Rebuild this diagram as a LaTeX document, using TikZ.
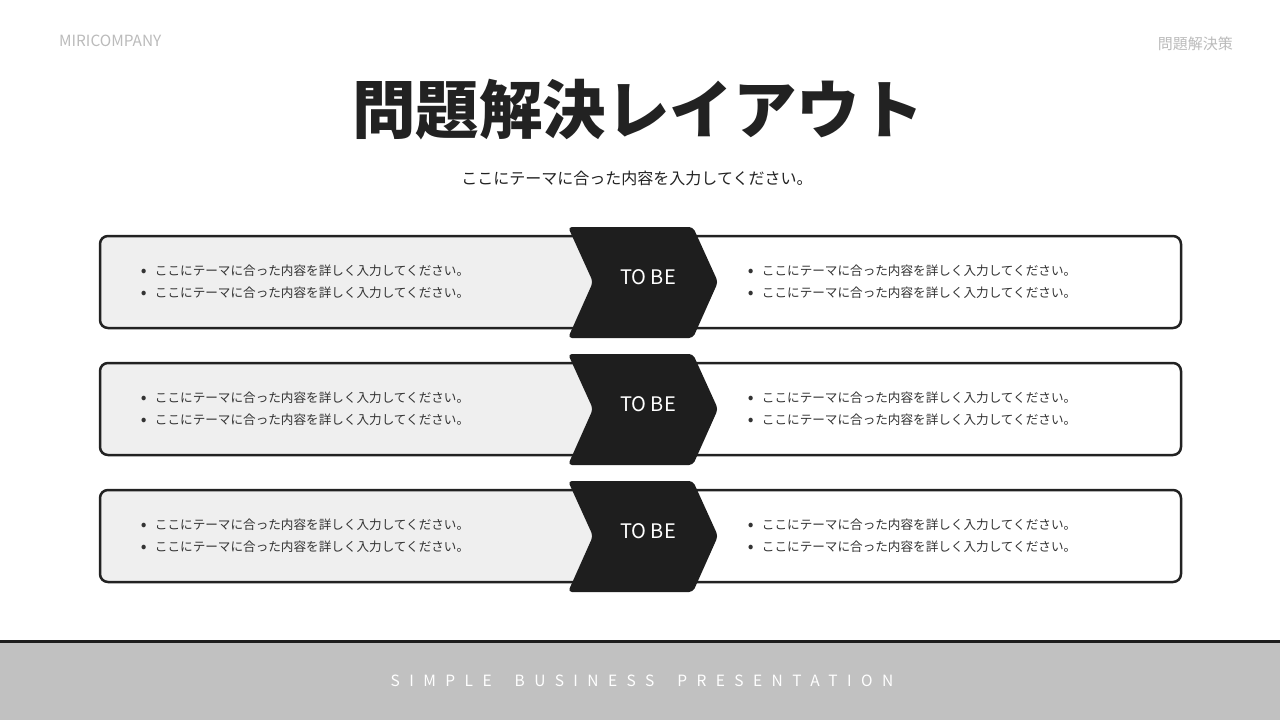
\documentclass[tikz,border=0pt]{standalone}
\usepackage{fontspec}
\setmainfont{Noto Sans CJK JP}
\usetikzlibrary{positioning}
\definecolor{ink}{HTML}{222222}
\definecolor{chevdark}{HTML}{1E1E1E}
\definecolor{leftfill}{HTML}{EFEFEF}
\definecolor{txt}{HTML}{333333}
\definecolor{headgray}{HTML}{BBBBBB}
\definecolor{footgray}{HTML}{C1C1C1}
\newcommand{\bul}{\makebox[14pt][l]{\raisebox{-0.6pt}{\fontsize{17}{22}\selectfont •}}}
\newcommand{\pt}{\bul ここにテーマに合った内容を詳しく入力してください。}
\begin{document}
\begin{tikzpicture}[x=1pt,y=-1pt]
\tikzstyle{head}=[text=headgray,inner sep=0pt]
\tikzstyle{box}=[draw=ink,line width=2.5pt,rounded corners=8pt,minimum width=1081pt,minimum height=92pt,inner sep=0pt]
\tikzstyle{chev}=[fill=chevdark,rounded corners=4pt]
\tikzstyle{pts}=[text=txt,align=left,inner sep=0pt,font=\fontsize{12.6}{22}\selectfont]
\tikzstyle{tobe}=[text=white,inner sep=0pt,font=\fontsize{20}{24}\selectfont]
\useasboundingbox (0,0) rectangle (1280,720);
\fill[white] (0,0) rectangle (1280,720);
% header
\node[head,anchor=west,font=\fontsize{15.4}{18}\selectfont] (brand) at (59,41) {MIRICOMPANY};
\node[head,anchor=east,font=\fontsize{15}{18}\selectfont] (tag) at (1233,44) {問題解決策};
\node[text=ink,font=\bfseries\fontsize{63.5}{70}\selectfont] (title) at (638,110) {問題解決レイアウト};
\node[text=ink,font=\fontsize{16}{18}\selectfont] (sub) at (637,178) {ここにテーマに合った内容を入力してください。};
% row 1
\fill[leftfill,rounded corners=8pt] (100,236) rectangle (640,328);
\node[box] (row1) at (640.5,282) {};
\fill[chev] (568,227) -- (693,227) -- (718,282) -- (693,338) -- (568,338) -- (593,282) -- cycle;
\node[tobe] (tobe1) at (648,277) {TO BE};
\node[pts,right=42pt of row1.west] (as1) {\pt\\\pt};
\node[pts,right=649pt of row1.west] (be1) {\pt\\\pt};
% row 2
\fill[leftfill,rounded corners=8pt] (100,363) rectangle (640,455);
\node[box] (row2) at (640.5,409) {};
\fill[chev] (568,354) -- (693,354) -- (718,409) -- (693,465) -- (568,465) -- (593,409) -- cycle;
\node[tobe] (tobe2) at (648,404) {TO BE};
\node[pts,right=42pt of row2.west] (as2) {\pt\\\pt};
\node[pts,right=649pt of row2.west] (be2) {\pt\\\pt};
% row 3
\fill[leftfill,rounded corners=8pt] (100,490) rectangle (640,582);
\node[box] (row3) at (640.5,536) {};
\fill[chev] (568,481) -- (693,481) -- (718,536) -- (693,592) -- (568,592) -- (593,536) -- cycle;
\node[tobe] (tobe3) at (648,531) {TO BE};
\node[pts,right=42pt of row3.west] (as3) {\pt\\\pt};
\node[pts,right=649pt of row3.west] (be3) {\pt\\\pt};
% footer
\fill[footgray] (0,643) rectangle (1280,720);
\draw[chevdark,line width=3pt] (0,641.5) -- (1280,641.5);
\node[text=white,inner sep=0pt,font=\fontsize{15.5}{18}\selectfont\addfontfeature{LetterSpace=61}] (foot) at (642,681) {SIMPLE\hspace{10pt} BUSINESS\hspace{10pt} PRESENTATION};
\end{tikzpicture}
\end{document}
